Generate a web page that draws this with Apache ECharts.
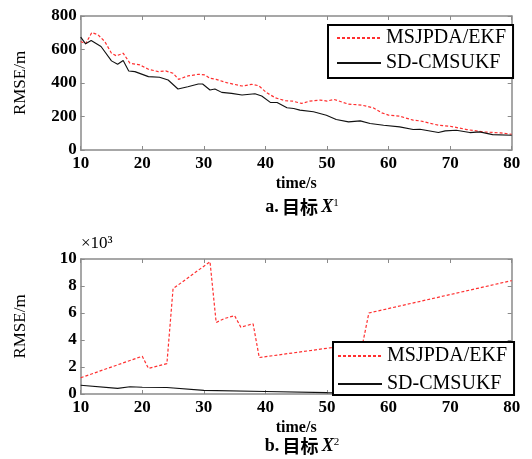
<!DOCTYPE html>
<html><head><meta charset="utf-8">
<script src="https://cdn.jsdelivr.net/npm/echarts@6/dist/echarts.min.js"></script>
<style>html,body{margin:0;padding:0;background:#fff}#c{width:532px;height:459px}</style>
</head><body><div id="c"></div>
<script>
const seriesNames = ['MSJPDA/EKF', 'SD-CMSUKF'];
const xTicks = [10, 20, 30, 40, 50, 60, 70, 80];
const yTicksA = [0, 200, 400, 600, 800];
const yTicksB = [0, 2, 4, 6, 8, 10];

// Chart a: target X1
const timeA_red = [10,10.8,11.8,12.8,13.9,15,15.8,16.9,18,19.6,21,22.6,23.8,25,25.9,27.4,29.1,30.2,31,32,33.7,36.2,37.8,38.9,40.2,41.6,43.2,44.4,45.9,47.2,48.9,50,51.1,53.5,55.6,57.5,58.9,60,61.8,64,65.1,68.1,70,72.7,75.4,78.2,80];
const rmseA_red = [648,634,701,688,648,578,562,578,518,508,482,468,472,458,422,442,452,448,428,422,402,382,392,384,342,312,294,292,278,292,298,292,302,274,268,252,222,208,202,178,174,148,142,122,108,102,94];

const timeA_black = [10,10.8,11.7,13.3,15,16,16.9,17.8,18.8,21,22.8,24.2,25.8,27.4,29.1,29.8,31,31.8,32.9,34.5,36.2,38.3,39.4,40.8,41.9,43.5,44.6,45.6,47.8,49.9,51.5,53.5,55.4,57,59.2,61.8,64,65.1,68.1,69.2,71,73.2,74.8,76.9,80];
const rmseA_black = [674,634,654,618,532,512,534,472,468,438,434,418,364,378,394,394,358,364,344,338,328,336,322,284,284,252,248,238,228,208,182,168,174,158,148,138,122,124,104,114,118,104,108,92,88];

// Chart b: target X2 (values in m)
const timeB_red = [10,20,21,24,25,31,32,33.4,35,36,38,39,55.8,56.8,80];
const rmseB_red = [1200,2800,1900,2250,7800,9800,5300,5600,5800,4950,5200,2700,3750,6000,8400];

const timeB_black = [10,16,18,20,24,30,40,50,60,70,80];
const rmseB_black = [650,420,540,500,480,270,180,100,60,40,30];

const zip = (a, b) => a.map((t, i) => [t, b[i]]);

const AX = '#8a8a8a';
const SERIF = '"Liberation Serif","Times New Roman",serif';
const labelStyle = {fontFamily: SERIF, fontWeight: 'bold', fontSize: 17, color: '#000'};

function xAx(gi, pos) {
  const main = pos === 'bottom';
  return {
    type: 'value', gridIndex: gi, position: pos, min: xTicks[0], max: xTicks[xTicks.length-1], interval: 10,
    axisLine: {show: true, onZero: false, lineStyle: {color: AX, width: 1.5}},
    axisTick: {show: true, inside: true, length: 4, lineStyle: {color: AX}},
    axisLabel: main ? Object.assign({margin: 5}, labelStyle) : {show: false},
    splitLine: {show: false},
    name: main ? 'time/s' : '', nameLocation: 'middle', nameGap: 26,
    nameTextStyle: {fontFamily: SERIF, fontWeight: 'bold', fontSize: 16, color: '#000'}
  };
}
function yAx(gi, pos, ticks, scale, extra) {
  const main = pos === 'left';
  return Object.assign({
    type: 'value', gridIndex: gi, position: pos, min: ticks[0]*scale, max: ticks[ticks.length-1]*scale,
    interval: (ticks[1]-ticks[0])*scale,
    axisLine: {show: true, onZero: false, lineStyle: {color: AX, width: 1.5}},
    axisTick: {show: true, inside: true, length: 4, lineStyle: {color: AX}},
    axisLabel: main ? Object.assign({margin: 4, formatter: v => String(Math.round(v/scale))}, labelStyle) : {show: false},
    splitLine: {show: false}
  }, extra || {});
}

const yNameStyle = {fontFamily: SERIF, fontSize: 17, color: '#000'};

const legendBase = {
  orient: 'vertical', itemWidth: 44, itemHeight: 14, selectedMode: false,
  borderColor: '#000', borderWidth: 2, backgroundColor: '#fff', borderRadius: 0,
  itemStyle: {color: 'rgba(0,0,0,0)', borderColor: 'rgba(0,0,0,0)', borderWidth: 0, opacity: 0},
  textStyle: {fontFamily: SERIF, fontSize: 20, color: '#000', lineHeight: 22},
  data: seriesNames
};

const redLine = {color: '#ff3030', width: 1.2, type: [3, 2]};
const blackLine = {color: '#111', width: 1.1};

function caption(letter, sup, y) {
  return {type: 'text', x: 302, y: y, style: {
    text: '{b|' + letter + '.} {c|目标} {i|X}{s|' + sup + '}', align: 'center', verticalAlign: 'middle',
    rich: {
      b: {font: 'bold 18px ' + SERIF},
      c: {font: 'bold 18px "Noto Sans CJK SC"'},
      i: {font: 'italic bold 18px ' + SERIF},
      s: {font: '11px ' + SERIF, verticalAlign: 'top', padding: [0, 0, 8, 0]}
    },
    fill: '#000'}};
}

const option = {
  animation: false,
  grid: [
    {left: 80.7, top: 16, width: 431, height: 134},
    {left: 80.7, top: 259, width: 431, height: 135}
  ],
  xAxis: [xAx(0, 'bottom'), xAx(0, 'top'), xAx(1, 'bottom'), xAx(1, 'top')],
  yAxis: [
    yAx(0, 'left', yTicksA, 1, {name: 'RMSE/m', nameLocation: 'middle', nameGap: 52, nameRotate: 90, nameTextStyle: yNameStyle}),
    yAx(0, 'right', yTicksA, 1),
    yAx(1, 'left', yTicksB, 1000, {name: 'RMSE/m', nameLocation: 'middle', nameGap: 52, nameRotate: 90, nameTextStyle: yNameStyle}),
    yAx(1, 'right', yTicksB, 1000)
  ],
  legend: [
    Object.assign({}, legendBase, {left: 328, top: 25, padding: [2, 7, 4, 8], itemGap: 3}),
    Object.assign({}, legendBase, {left: 333, top: 342, padding: [3, 7, 0, 4], itemGap: 6})
  ],
  series: [
    {name: seriesNames[0], type: 'line', xAxisIndex: 0, yAxisIndex: 0, data: zip(timeA_red, rmseA_red), symbol: 'none', lineStyle: redLine, itemStyle: {color: redLine.color}},
    {name: seriesNames[1], type: 'line', xAxisIndex: 0, yAxisIndex: 0, data: zip(timeA_black, rmseA_black), symbol: 'none', lineStyle: blackLine, itemStyle: {color: blackLine.color}},
    {name: seriesNames[0], type: 'line', xAxisIndex: 2, yAxisIndex: 2, data: zip(timeB_red, rmseB_red), symbol: 'none', lineStyle: redLine, itemStyle: {color: redLine.color}},
    {name: seriesNames[1], type: 'line', xAxisIndex: 2, yAxisIndex: 2, data: zip(timeB_black, rmseB_black), symbol: 'none', lineStyle: blackLine, itemStyle: {color: blackLine.color}}
  ],
  graphic: [
    {type: 'text', left: 81, top: 235, style: {text: '×10³', font: '17px ' + SERIF, fill: '#000'}},
    caption('a', '1', 207),
    caption('b', '2', 446)
  ]
};
const chart = echarts.init(document.getElementById('c'), null, {renderer: 'canvas'});
chart.setOption(option);
</script></body></html>
